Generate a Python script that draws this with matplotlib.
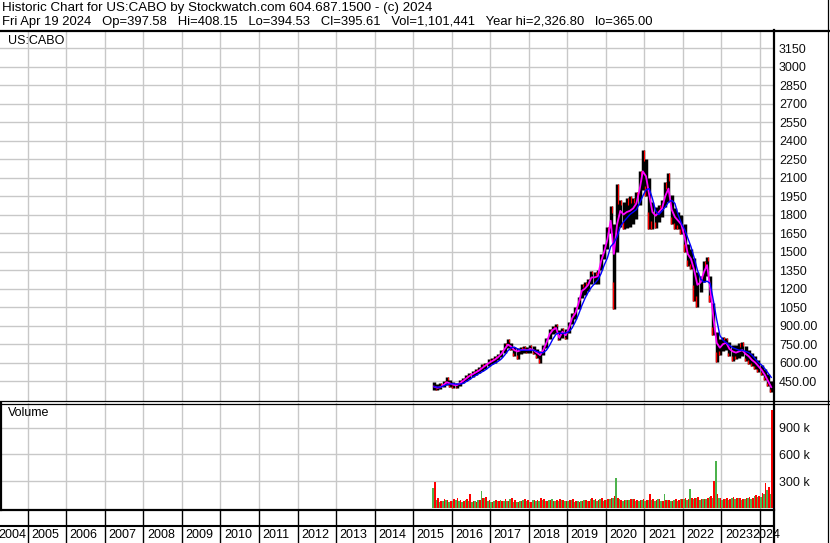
import matplotlib
matplotlib.use("Agg")
import matplotlib.pyplot as plt
from matplotlib.lines import Line2D
import pandas as pd
import numpy as np

plt.rcParams['font.family'] = ['Liberation Sans', 'DejaVu Sans']

# ---------------- data (monthly, Jul 2015 .. Apr 2024) ----------------
months = pd.date_range('2015-07-01', '2024-04-01', freq='MS')

price_high = [
    445, 425, 430, 450, 480, 455,
    440, 435, 455, 475, 495, 515, 530, 545, 560, 585, 600, 625,
    635, 650, 670, 705, 760, 790, 760, 725, 715, 725, 730, 725,
    740, 730, 710, 690, 740, 800, 870, 900, 910, 860, 880, 870,
    930, 1000, 1050, 1130, 1240, 1250, 1280, 1340, 1330, 1350, 1480, 1560,
    1700, 1870, 1720, 2050, 1920, 1900, 1930, 1950, 1930, 1980, 2150, 2326,
    2250, 2100, 1900, 1860, 1880, 1920, 2060, 2134, 1960, 1850, 1820, 1800,
    1720, 1560, 1520, 1450, 1330, 1300, 1420, 1458, 1300, 1080, 850, 790,
    810, 800, 770, 740, 740, 760, 770, 730, 700, 680, 650, 620,
    580, 550, 510, 450,
]
price_low = [
    380, 380, 385, 400, 420, 405,
    395, 395, 410, 430, 450, 470, 485, 500, 515, 530, 550, 570,
    585, 600, 620, 645, 680, 715, 700, 650, 630, 670, 680, 675,
    680, 670, 640, 600, 660, 720, 790, 830, 840, 780, 800, 790,
    840, 910, 950, 1030, 1120, 1150, 1180, 1240, 1240, 1240, 1350, 1440,
    1520, 1650, 1030, 1500, 1700, 1680, 1690, 1700, 1720, 1760, 1880, 2000,
    1950, 1680, 1680, 1690, 1740, 1780, 1860, 1900, 1720, 1680, 1680, 1640,
    1500, 1380, 1360, 1100, 1052, 1170, 1250, 1300, 1090, 820, 606, 660,
    690, 700, 650, 610, 630, 640, 650, 610, 590, 570, 550, 520,
    500, 460, 410, 365,
]
ma_fast = [
    405, 395, 400, 420, 440, 430,
    420, 415, 430, 450, 470, 490, 505, 520, 535, 555, 575, 595,
    610, 625, 645, 670, 710, 745, 730, 700, 690, 700, 705, 700,
    710, 700, 680, 660, 700, 760, 830, 865, 880, 800, 850, 820,
    880, 960, 1000, 1080, 1180, 1200, 1230, 1290, 1290, 1300, 1420, 1500,
    1600, 1750, 1480, 1720, 1830, 1800, 1820, 1830, 1850, 1890, 2000, 2150,
    2110, 1960, 1820, 1790, 1820, 1850, 1950, 2010, 1840, 1780, 1750, 1720,
    1620, 1480, 1440, 1350, 1230, 1250, 1330, 1390, 1200, 960, 760, 720,
    750, 760, 710, 690, 680, 690, 700, 670, 650, 620, 600, 570,
    540, 500, 450, 400,
]
ma_slow = [
    404, 400, 400, 410, 420, 425,
    428, 425, 425, 430, 445, 460, 480, 495, 510, 525, 540, 560,
    580, 595, 610, 630, 660, 695, 720, 725, 710, 700, 700, 700,
    700, 700, 690, 680, 680, 700, 740, 790, 830, 840, 835, 840,
    850, 880, 930, 990, 1060, 1120, 1170, 1210, 1240, 1270, 1320, 1390,
    1450, 1540, 1570, 1620, 1700, 1740, 1770, 1800, 1820, 1840, 1890, 1950,
    2000, 2010, 1930, 1830, 1800, 1830, 1860, 1900, 1915, 1890, 1800, 1730,
    1680, 1610, 1540, 1450, 1350, 1280, 1250, 1260, 1240, 1100, 950, 820,
    780, 760, 740, 720, 710, 700, 700, 690, 680, 660, 630, 600,
    580, 550, 515, 480,
]
# volume in thousands: up-day (green) and down-day (red)
vol_up = [
    225, 90, 70, 80, 90, 70,
    80, 90, 75, 70, 85, 80, 70, 80, 85, 185, 110, 80,
    70, 80, 75, 85, 75, 80, 95, 70, 65, 80, 85, 80,
    70, 85, 80, 75, 90, 75, 85, 100, 80, 80, 85, 75,
    80, 85, 70, 80, 75, 85, 80, 100, 85, 80, 95, 80,
    85, 95, 110, 340, 95, 80, 90, 85, 95, 80, 75, 90,
    80, 85, 90, 75, 95, 80, 150, 85, 75, 90, 80, 95,
    95, 90, 215, 100, 105, 85, 95, 100, 120, 115, 530, 105,
    85, 100, 90, 115, 95, 105, 90, 100, 110, 95, 130, 120,
    120, 150, 200, 150,
]
vol_down = [
    290, 105, 80, 95, 85, 75,
    95, 105, 85, 75, 100, 150, 80, 70, 90, 115, 120, 90,
    70, 90, 75, 80, 100, 75, 105, 85, 70, 80, 95, 85,
    70, 90, 85, 105, 95, 80, 90, 75, 85, 100, 90, 80,
    85, 95, 80, 70, 80, 90, 75, 110, 100, 90, 105, 85,
    95, 110, 130, 105, 85, 90, 85, 95, 100, 90, 85, 95,
    90, 155, 95, 85, 100, 80, 85, 90, 80, 95, 85, 100,
    105, 95, 115, 110, 120, 95, 100, 110, 130, 300, 150, 115,
    95, 105, 100, 125, 105, 115, 100, 115, 125, 105, 145, 135,
    170, 275, 230, 1101,
]

price_ticks = [450, 600, 750, 900, 1050, 1200, 1350, 1500, 1650, 1800, 1950,
               2100, 2250, 2400, 2550, 2700, 2850, 3000, 3150]
vol_ticks = [300, 600, 900]
years = list(range(2004, 2025))

header1 = "Historic Chart for US:CABO by Stockwatch.com 604.687.1500 - (c) 2024"
header2 = ("Fri Apr 19 2024   Op=397.58   Hi=408.15   Lo=394.53   Cl=395.61   "
           "Vol=1,101,441   Year hi=2,326.80   lo=365.00")
symbol = "US:CABO"
vol_title = "Volume"

# ---------------- layout helpers ----------------
W, H = 830, 543
def fx(x): return x / W
def fy(y): return 1 - y / H

t = np.array([d.year + (d.month - 0.5) / 12 for d in months])
XL = (2004.28, 2024.363)
PLOT_R = 774
GRID = '#c8c8c8'
FS = 9.0
px_yr = (XL[1] - XL[0]) / PLOT_R

fig = plt.figure(figsize=(W / 100, H / 100), dpi=100)
fig.patch.set_facecolor('white')

# ---------------- price panel ----------------
ax_p = fig.add_axes([0, fy(401), fx(PLOT_R), (401 - 31) / H])
ax_p.set_xlim(*XL)
ax_p.set_ylim(288, 3288)
for s in ax_p.spines.values():
    s.set_visible(False)
ax_p.set_xticks(years[1:])
ax_p.set_yticks(price_ticks)
ax_p.grid(True, color=GRID, lw=1)
ax_p.set_axisbelow(True)
ax_p.yaxis.tick_right()
ax_p.set_yticklabels([f"{v}" if v >= 1000 else f"{v:.2f}" for v in price_ticks],
                     fontsize=FS, color='#101010')
ax_p.tick_params(axis='y', length=0, pad=3.6)
ax_p.tick_params(axis='x', length=0, labelbottom=False)

ax_p.vlines(t, price_low, price_high, color='black', lw=2.5)
for i in range(1, len(t)):
    if ma_fast[i] < ma_fast[i - 1]:
        ax_p.vlines(t[i] - px_yr, price_low[i], (price_low[i] + ma_fast[i]) / 2,
                    color='#ff0000', lw=1.0)
    else:
        ax_p.vlines(t[i] + px_yr, (price_high[i] + ma_fast[i]) / 2, price_high[i],
                    color='#ff0000', lw=0.8)
ax_p.plot(t, ma_fast, color='#ff00ff', lw=1.3)
ax_p.plot(t, ma_slow, color='#0000ff', lw=1.0)
ax_p.text(8 / PLOT_R, 1 - 10 / 370, symbol, transform=ax_p.transAxes,
          fontsize=FS, va='center', ha='left')

# ---------------- volume panel ----------------
ax_v = fig.add_axes([0, fy(509.5), fx(PLOT_R), (509.5 - 403) / H])
ax_v.set_xlim(*XL)
ax_v.set_ylim(-20, 1180)
for s in ax_v.spines.values():
    s.set_visible(False)
ax_v.set_xticks(years[1:])
ax_v.set_yticks(vol_ticks)
ax_v.grid(True, color=GRID, lw=1)
ax_v.set_axisbelow(True)
ax_v.yaxis.tick_right()
ax_v.set_yticklabels([f"{v} k" for v in vol_ticks], fontsize=FS, color='#101010')
ax_v.tick_params(axis='y', length=0, pad=3.6)
ax_v.tick_params(axis='x', length=0, labelbottom=False)
w = 1 / 12
ax_v.bar(t - w / 4, vol_up, width=w / 2, bottom=0, color='#4cb24c', lw=0)
ax_v.bar(t + w / 4, vol_down, width=w / 2, bottom=0, color='#ff0000', lw=0)
ax_v.text(8 / PLOT_R, 1 - 10 / 106.5, vol_title, transform=ax_v.transAxes,
          fontsize=FS, va='center', ha='left')

# ---------------- year strip ----------------
ax_x = fig.add_axes([0, 0, fx(PLOT_R), fy(509.5)], frameon=False)
ax_x.set_xlim(*XL)
ax_x.set_ylim(543, 509.5)
ax_x.set_xticks([]); ax_x.set_yticks([])
for yr in years[1:]:
    ax_x.axvline(yr, color='black', lw=1)
ax_x.axhline(526, color='black', lw=1.5)
for yr in years:
    if yr == years[-1]:
        ax_x.text(XL[0] + 780 * px_yr, 535.5, str(yr), ha='right', va='center',
                  fontsize=FS, clip_on=False)
    else:
        xpos = max(yr + 3.5 * px_yr, XL[0] - 1.5 * px_yr)
        ax_x.text(xpos, 535.5, str(yr), ha='left', va='center',
                  fontsize=FS, clip_on=False)

# ---------------- frame lines ----------------
def hline(y, x0, x1, lw):
    fig.add_artist(Line2D([fx(x0), fx(x1)], [fy(y), fy(y)], color='black', lw=lw,
                          transform=fig.transFigure))
def vline(x, y0, y1, lw):
    fig.add_artist(Line2D([fx(x), fx(x)], [fy(y0), fy(y1)], color='black', lw=lw,
                          transform=fig.transFigure))

hline(30.5, 0, 828.5, 1.6)
hline(401, 0, 830, 0.9)
hline(403.5, 0, 830, 0.9)
hline(509.5, 0, 774, 1.6)
vline(774, 30, 543, 1.6)
vline(828, 0, 543, 0.9)
vline(1, 403, 510, 1.6)

# ---------------- header ----------------
fig.text(fx(2), fy(8.5), header1, fontsize=9.65, va='center', ha='left')
fig.text(fx(2), fy(22.5), header2, fontsize=9.35, va='center', ha='left')

fig.savefig('out.png', dpi=100, facecolor='white')
